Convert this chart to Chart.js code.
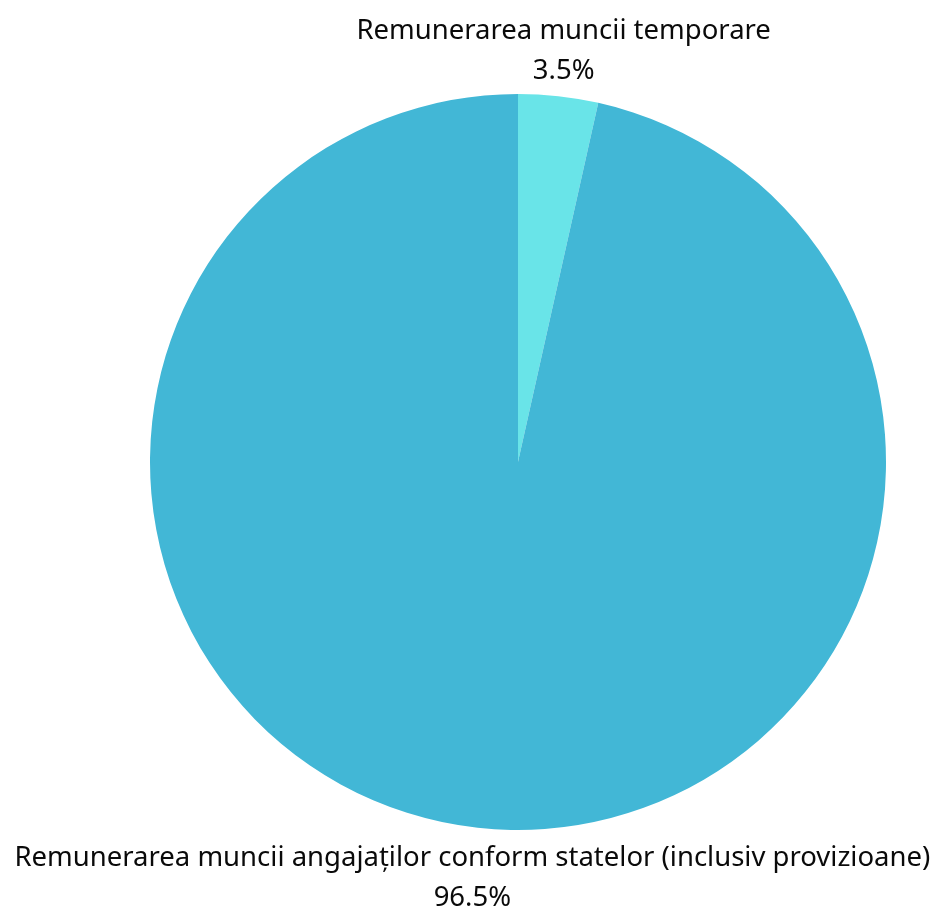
<!DOCTYPE html>
<html>
<head>
<meta charset="utf-8">
<script src="https://cdn.jsdelivr.net/npm/chart.js@4"></script>
<style>
  html, body { margin: 0; padding: 0; background: #fff; }
  #wrap { width: 934px; height: 909px; }
</style>
</head>
<body>
<div id="wrap"><canvas id="pie"></canvas></div>
<script>
const labels = ["Remunerarea muncii temporare", "Remunerarea muncii angajaților conform statelor (inclusiv provizioane)"];
const shares = [3.5, 96.5];
const colors = ["#69e4e8", "#42b7d6"];

const FONT = '"Noto Sans", sans-serif';

// draws each label outside its slice, two lines: name and percent
const outerLabels = {
  id: "outerLabels",
  afterDraw(chart) {
    const ctx = chart.ctx;
    const meta = chart.getDatasetMeta(0);
    ctx.save();
    ctx.fillStyle = "#0a0a0a";
    ctx.textAlign = "center";
    ctx.textBaseline = "middle";
    meta.data.forEach((arc, i) => {
      const mid = (arc.startAngle + arc.endAngle) / 2;
      const r = arc.outerRadius + 48;
      const x = arc.x + Math.cos(mid) * r;
      const y = arc.y + Math.sin(mid) * r + 3;
      ctx.font = `27.5px ${FONT}`;
      ctx.fillText(labels[i], x, y - 20);
      ctx.fillText(`${shares[i].toFixed(1)}%`, x, y + 20);
    });
    ctx.restore();
  },
};

new Chart(document.getElementById("pie"), {
  type: "pie",
  data: {
    labels,
    datasets: [{ data: shares, backgroundColor: colors, borderWidth: 0 }],
  },
  options: {
    responsive: true,
    maintainAspectRatio: false,
    animation: false,
    layout: { padding: { top: 94, bottom: 79, left: 150, right: 48 } },
    plugins: { legend: { display: false }, tooltip: { enabled: false } },
  },
  plugins: [outerLabels],
});
</script>
</body>
</html>
